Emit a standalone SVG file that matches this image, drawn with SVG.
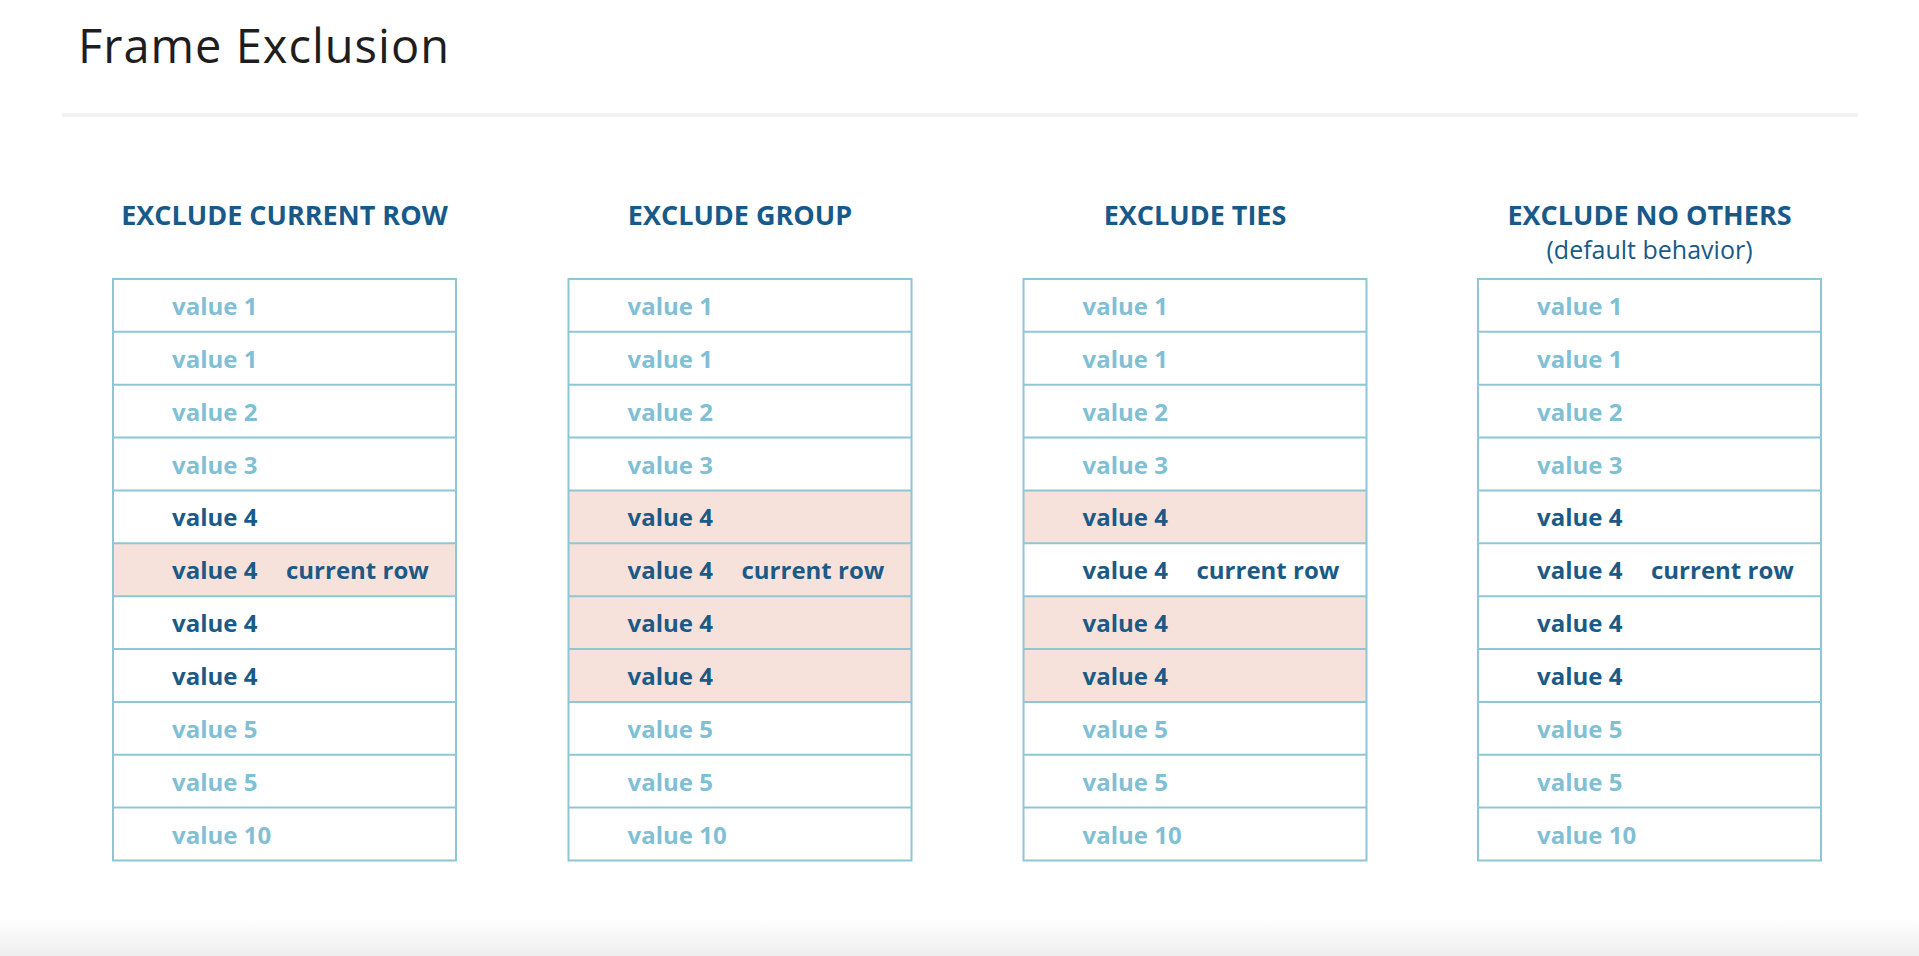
<svg xmlns="http://www.w3.org/2000/svg" width="1919" height="956" viewBox="0 0 1919 956">
<defs>
<linearGradient id="bottomFade" x1="0" y1="0" x2="0" y2="1">
<stop offset="0" stop-color="#ffffff"/>
<stop offset="1" stop-color="#eeeeee"/>
</linearGradient>
</defs>
<style>
.title{font-family:"Open Sans","Noto Sans","DejaVu Sans",sans-serif;font-size:47px;fill:#1e1e1e;letter-spacing:1px}
.hdr{font-family:"Open Sans","Noto Sans","DejaVu Sans",sans-serif;font-size:27px;font-weight:700;fill:#175a89;text-anchor:middle}
.sub{font-family:"Open Sans","Noto Sans","DejaVu Sans",sans-serif;font-size:25px;fill:#175a89;text-anchor:middle}
.v{font-family:"Open Sans","Noto Sans","DejaVu Sans",sans-serif;font-size:24px;font-weight:700}
.lt{fill:#80bfd4}
.dk{fill:#1b5a86}
.hl{fill:#f7e1db}
.grid{fill:none;stroke:#8ec6d6;stroke-width:2}
</style>
<rect x="0" y="0" width="1919" height="956" fill="#ffffff"/>
<rect x="0" y="918" width="1919" height="38" fill="url(#bottomFade)"/>
<g id="title">
<text class="title" x="78" y="63">Frame Exclusion</text>
<rect x="62" y="113" width="1796" height="4" fill="#f2f2f2"/>
</g>

<g id="table-exclude-current-row" transform="translate(113,0)">
<text class="hdr" x="171.5" y="225">EXCLUDE CURRENT ROW</text>
<rect class="hl" x="0" y="543.3" width="343" height="52.86"/>
<path class="grid" d="M0,279H343V860.46H0Z M0,331.86H343 M0,384.72H343 M0,437.58H343 M0,490.44H343 M0,543.3H343 M0,596.16H343 M0,649.02H343 M0,701.88H343 M0,754.74H343 M0,807.6H343"/>
<text class="v lt" x="59" y="315">value 1</text>
<text class="v lt" x="59" y="367.9">value 1</text>
<text class="v lt" x="59" y="420.7">value 2</text>
<text class="v lt" x="59" y="473.6">value 3</text>
<text class="v dk" x="59" y="526.4">value 4</text>
<text class="v dk" x="59" y="579.3">value 4</text>
<text class="v dk" x="173" y="579.3">current row</text>
<text class="v dk" x="59" y="632.2">value 4</text>
<text class="v dk" x="59" y="685">value 4</text>
<text class="v lt" x="59" y="737.9">value 5</text>
<text class="v lt" x="59" y="790.7">value 5</text>
<text class="v lt" x="59" y="843.6">value 10</text>
</g>

<g id="table-exclude-group" transform="translate(568.5,0)">
<text class="hdr" x="171.5" y="225">EXCLUDE GROUP</text>
<rect class="hl" x="0" y="490.44" width="343" height="211.44"/>
<path class="grid" d="M0,279H343V860.46H0Z M0,331.86H343 M0,384.72H343 M0,437.58H343 M0,490.44H343 M0,543.3H343 M0,596.16H343 M0,649.02H343 M0,701.88H343 M0,754.74H343 M0,807.6H343"/>
<text class="v lt" x="59" y="315">value 1</text>
<text class="v lt" x="59" y="367.9">value 1</text>
<text class="v lt" x="59" y="420.7">value 2</text>
<text class="v lt" x="59" y="473.6">value 3</text>
<text class="v dk" x="59" y="526.4">value 4</text>
<text class="v dk" x="59" y="579.3">value 4</text>
<text class="v dk" x="173" y="579.3">current row</text>
<text class="v dk" x="59" y="632.2">value 4</text>
<text class="v dk" x="59" y="685">value 4</text>
<text class="v lt" x="59" y="737.9">value 5</text>
<text class="v lt" x="59" y="790.7">value 5</text>
<text class="v lt" x="59" y="843.6">value 10</text>
</g>

<g id="table-exclude-ties" transform="translate(1023.5,0)">
<text class="hdr" x="171.5" y="225">EXCLUDE TIES</text>
<rect class="hl" x="0" y="490.44" width="343" height="52.86"/>
<rect class="hl" x="0" y="596.16" width="343" height="105.72"/>
<path class="grid" d="M0,279H343V860.46H0Z M0,331.86H343 M0,384.72H343 M0,437.58H343 M0,490.44H343 M0,543.3H343 M0,596.16H343 M0,649.02H343 M0,701.88H343 M0,754.74H343 M0,807.6H343"/>
<text class="v lt" x="59" y="315">value 1</text>
<text class="v lt" x="59" y="367.9">value 1</text>
<text class="v lt" x="59" y="420.7">value 2</text>
<text class="v lt" x="59" y="473.6">value 3</text>
<text class="v dk" x="59" y="526.4">value 4</text>
<text class="v dk" x="59" y="579.3">value 4</text>
<text class="v dk" x="173" y="579.3">current row</text>
<text class="v dk" x="59" y="632.2">value 4</text>
<text class="v dk" x="59" y="685">value 4</text>
<text class="v lt" x="59" y="737.9">value 5</text>
<text class="v lt" x="59" y="790.7">value 5</text>
<text class="v lt" x="59" y="843.6">value 10</text>
</g>

<g id="table-exclude-no-others" transform="translate(1478,0)">
<text class="hdr" x="171.5" y="225">EXCLUDE NO OTHERS</text>
<text class="sub" x="171.5" y="259">(default behavior)</text>
<path class="grid" d="M0,279H343V860.46H0Z M0,331.86H343 M0,384.72H343 M0,437.58H343 M0,490.44H343 M0,543.3H343 M0,596.16H343 M0,649.02H343 M0,701.88H343 M0,754.74H343 M0,807.6H343"/>
<text class="v lt" x="59" y="315">value 1</text>
<text class="v lt" x="59" y="367.9">value 1</text>
<text class="v lt" x="59" y="420.7">value 2</text>
<text class="v lt" x="59" y="473.6">value 3</text>
<text class="v dk" x="59" y="526.4">value 4</text>
<text class="v dk" x="59" y="579.3">value 4</text>
<text class="v dk" x="173" y="579.3">current row</text>
<text class="v dk" x="59" y="632.2">value 4</text>
<text class="v dk" x="59" y="685">value 4</text>
<text class="v lt" x="59" y="737.9">value 5</text>
<text class="v lt" x="59" y="790.7">value 5</text>
<text class="v lt" x="59" y="843.6">value 10</text>
</g>
</svg>
